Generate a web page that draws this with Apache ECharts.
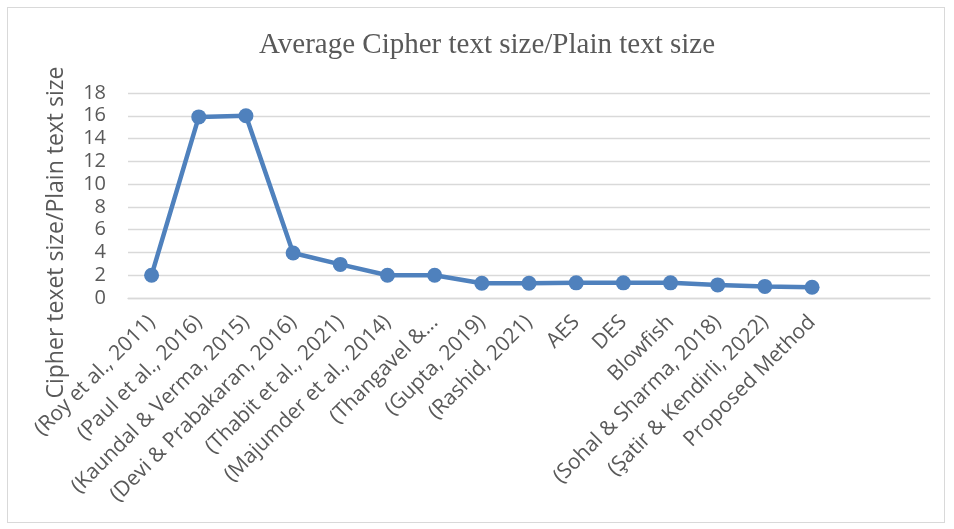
<!DOCTYPE html>
<html>
<head>
<meta charset="utf-8">
<script src="https://cdn.jsdelivr.net/npm/echarts@6/dist/echarts.min.js"></script>
<style>
html,body{margin:0;padding:0;background:#fff;}
#frame{position:absolute;left:7px;top:7px;width:938px;height:516px;border:1px solid #d9d9d9;box-sizing:border-box;}
#chart{position:absolute;left:0;top:0;width:954px;height:529px;}
</style>
</head>
<body>
<div id="frame"></div>
<div id="chart"></div>
<script>
const titleText = 'Average Cipher text size/Plain text size';
const yAxisName = 'Cipher texet size/Plain text size';
const categories = [
  '(Roy et al., 2011)',
  '(Paul et al., 2016)',
  '(Kaundal & Verma, 2015)',
  '(Devi & Prabakaran, 2016)',
  '(Thabit et al., 2021)',
  '(Majumder et al., 2014)',
  '(Thangavel &...',
  '(Gupta, 2019)',
  '(Rashid, 2021)',
  'AES',
  'DES',
  'Blowfish',
  '(Sohal & Sharma, 2018)',
  '(Şatir & Kendirli, 2022)',
  'Proposed Method'
];
const ratioValues = [2, 15.9, 16.0, 3.95, 2.95, 2, 2, 1.3, 1.3, 1.33, 1.33, 1.33, 1.15, 1.02, 0.95];
const yTicks = {min: 0, max: 18, interval: 2};

const chart = echarts.init(document.getElementById('chart'), null, {renderer: 'canvas'});
const labelFont = '"Open Sans", Lato, sans-serif';
chart.setOption({
  animation: false,
  backgroundColor: 'transparent',
  title: {
    text: titleText,
    left: 482,
    top: 26,
    textAlign: 'center',
    textStyle: {fontFamily: '"Liberation Serif", serif', fontSize: 29, fontWeight: 'normal', color: '#595959'}
  },
  grid: {left: 128, right: 24, top: 93, bottom: 231, containLabel: false},
  xAxis: {
    type: 'category',
    data: categories,
    max: 16,
    boundaryGap: true,
    axisLine: {show: true, lineStyle: {color: '#d9d9d9', width: 1.3}},
    axisTick: {show: false},
    axisLabel: {
      interval: 0,
      rotate: 45,
      margin: 21,
      fontFamily: labelFont,
      fontSize: 21,
      color: '#595959'
    }
  },
  yAxis: {
    type: 'value',
    min: yTicks.min,
    max: yTicks.max,
    interval: yTicks.interval,
    name: yAxisName,
    nameLocation: 'middle',
    nameGap: 60,
    nameRotate: 90,
    nameTextStyle: {fontFamily: labelFont, fontSize: 23, color: '#595959', padding: [0, 74, 0, 0]},
    axisLine: {show: false},
    axisTick: {show: false},
    axisLabel: {fontFamily: labelFont, fontSize: 20, color: '#595959', margin: 22},
    splitLine: {lineStyle: {color: '#d9d9d9', width: 1.3}}
  },
  series: [{
    type: 'line',
    data: ratioValues,
    symbol: 'circle',
    symbolSize: 15,
    lineStyle: {color: '#4f81bd', width: 4.5},
    itemStyle: {color: '#4f81bd'}
  }]
});
</script>
</body>
</html>
